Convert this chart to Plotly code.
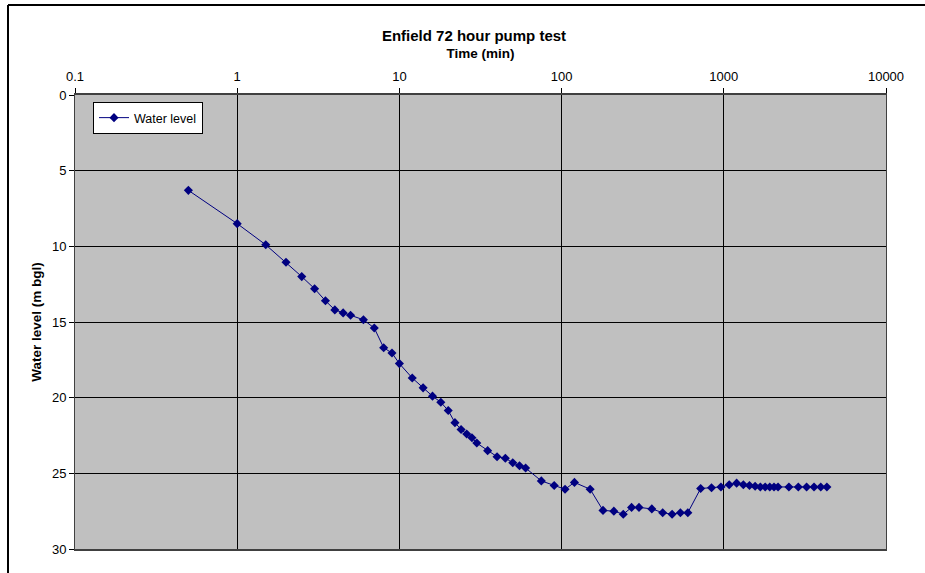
import plotly.graph_objects as go

time_min = [0.5, 1, 1.5, 2, 2.5, 3, 3.5, 4, 4.5, 5, 6, 7, 8, 9, 10,
            12, 14, 16, 18, 20, 22, 24, 26, 28, 30, 35, 40, 45, 50, 55, 60,
            75, 90, 105, 120, 150, 180, 210, 240, 270, 300, 360, 420, 480, 540, 600,
            720, 840, 960, 1080, 1200, 1320, 1440, 1560, 1680, 1800, 1920, 2040, 2160,
            2520, 2880, 3240, 3600, 3960, 4320]
water_level = [6.3, 8.5, 9.9, 11.05, 12.0, 12.8, 13.6, 14.2, 14.4, 14.55, 14.85, 15.4, 16.7, 17.05, 17.75,
               18.7, 19.35, 19.9, 20.3, 20.85, 21.65, 22.1, 22.4, 22.65, 23.0, 23.5, 23.9, 24.0, 24.3, 24.5, 24.65,
               25.5, 25.8, 26.05, 25.6, 26.05, 27.45, 27.5, 27.7, 27.25, 27.25, 27.35, 27.6, 27.7, 27.6, 27.6,
               26.0, 25.95, 25.9, 25.75, 25.65, 25.75, 25.8, 25.85, 25.9, 25.9, 25.9, 25.9, 25.9,
               25.9, 25.9, 25.9, 25.9, 25.9, 25.9]

x_tick_vals = [0.1, 1, 10, 100, 1000, 10000]
x_tick_text = ["0.1", "1", "10", "100", "1000", "10000"]
y_tick_vals = [0, 5, 10, 15, 20, 25, 30]

FONT = "Liberation Sans, Arial, sans-serif"
NAVY = "#000080"

fig = go.Figure()
fig.add_trace(go.Scatter(
    x=time_min, y=water_level, mode="lines+markers", name="Water level",
    line=dict(color=NAVY, width=1),
    marker=dict(symbol="diamond", size=7, color=NAVY),
))

W, H = 925, 573
L, R, T, B = 75, 39, 95, 24
pw, ph = W - L - R, H - T - B

fig.update_layout(
    width=W, height=H,
    margin=dict(l=L, r=R, t=T, b=B, autoexpand=False),
    paper_bgcolor="white",
    plot_bgcolor="#C0C0C0",
    font=dict(family=FONT, size=13, color="black"),
    title=dict(text="<b>Enfield 72 hour pump test</b>", x=474 / W, xanchor="center",
               y=1 - 36 / H, yanchor="middle", yref="container", font=dict(size=15, family=FONT)),
    showlegend=True,
    legend=dict(x=(93 - L) / pw, y=1 - (102 - T) / ph, xanchor="left", yanchor="top",
                bgcolor="white", bordercolor="black", borderwidth=1,
                font=dict(size=12.5, family=FONT), itemwidth=30,
                tracegroupgap=0),
    xaxis=dict(type="log", side="top", range=[-1, 4],
               tickvals=x_tick_vals, ticktext=x_tick_text,
               showgrid=True, gridcolor="black", gridwidth=1,
               showline=True, linecolor="#404040", linewidth=2, mirror=True,
               ticks="outside", ticklen=5, tickcolor="black",
               tickfont=dict(size=13, family=FONT), ticklabelstandoff=2,
               title=dict(text="<b>Time (min)</b>", font=dict(size=13.5, family=FONT), standoff=7),
               zeroline=False, automargin=False),
    yaxis=dict(range=[30, 0], tickvals=y_tick_vals,
               showgrid=True, gridcolor="black", gridwidth=1,
               showline=True, linecolor="#404040", linewidth=1, mirror=True,
               ticks="outside", ticklen=5, tickcolor="black",
               tickfont=dict(size=13, family=FONT),
               title=dict(text="<b>Water level (m bgl)</b>", font=dict(size=13.5, family=FONT), standoff=7),
               zeroline=False, automargin=False),
)

# outer chart frame: only left and top edges are visible in the reference
fx0 = (8 - L) / pw
fy1 = 1 + (T - 5) / ph
fig.add_shape(type="line", xref="paper", yref="paper",
              x0=fx0, x1=fx0, y0=-(B + 10) / ph, y1=fy1,
              line=dict(color="black", width=2), layer="above")
fig.add_shape(type="line", xref="paper", yref="paper",
              x0=fx0, x1=(W + 10 - L) / pw, y0=fy1, y1=fy1,
              line=dict(color="black", width=2), layer="above")

fig.write_html("out.html", config={"displayModeBar": False},
               post_script="document.body.style.margin='0';"
                           "document.body.style.overflow='hidden';"
                           "document.documentElement.style.overflow='hidden';")
